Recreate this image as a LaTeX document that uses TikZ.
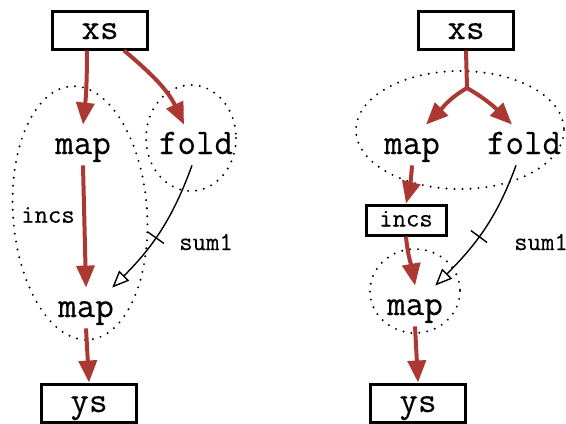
\documentclass[tikz,border=0pt]{standalone}
\usepackage{fontspec}
\setmonofont{Latin Modern Mono}[FakeBold=0.3]
\usetikzlibrary{arrows.meta,decorations.markings}
\definecolor{flow}{RGB}{172,56,52}

\begin{document}
\begin{tikzpicture}[x=0.5pt,y=-0.5pt,
    box/.style={draw,line width=1.5pt,font=\fontsize{18}{20}\selectfont\ttfamily,text height=12pt,text depth=3pt,minimum width=47.5pt,minimum height=19pt,inner sep=0pt},
    small box/.style={box,font=\fontsize{13}{15}\selectfont\ttfamily,text height=8.5pt,text depth=2pt,minimum width=40pt,minimum height=15pt},
    fn/.style={font=\fontsize{18}{20}\selectfont\ttfamily,text height=12pt,text depth=3pt,minimum height=20pt,inner sep=1pt},
    lbl/.style={font=\fontsize{13}{15}\selectfont\ttfamily},
    data/.style={draw=flow,line width=2pt,-{Triangle[length=11pt,width=9pt]}},
    ctrl/.style={draw,line width=0.7pt,-{Triangle[open,length=8.5pt,width=7pt]},postaction={decorate},
        decoration={markings,mark=at position 0.55 with {\draw[-] (0,-5pt)--(0,5pt);}}},
    region/.style={draw,line width=1.1pt,dash pattern=on 0pt off 4pt,line cap=round}]
    \useasboundingbox (0,0) rectangle (566,423);

    % left
    \draw[region,rotate around={4:(80,213)}] (80,213) ellipse [x radius=67,y radius=127];
    \draw[region] (191,138) ellipse [x radius=45,y radius=53];
    \node[box] (xsL) at (100,30) {xs};
    \node[fn] (mapL) at (83,145) {map};
    \node[fn] (foldL) at (196,145) {fold};
    \node[fn] (mapL2) at (86,308) {map};
    \node[box] (ysL) at (89,403) {ys};
    \node[lbl] (incsL) at (48,215) {incs};
    \node[lbl] (sumL) at (206,242) {sum1};
    \draw[data] ([xshift=-6.5pt]xsL.south) to[bend left=3] (mapL.north);
    \draw[data] ([xshift=12pt]xsL.south) to[out=-40,in=115] ([xshift=-6pt]foldL.north);
    \draw[data] (mapL.south) -- (mapL2.north);
    \draw[data] (mapL2.south) -- (ysL.north);
    \draw[ctrl] ([xshift=-2pt]foldL.south) to[out=-110,in=45] ([xshift=-2pt]mapL2.north east);

    % right
    \draw[region] (460,130) ellipse [x radius=104,y radius=59];
    \draw[region] (415,291) ellipse [x radius=45,y radius=42];
    \node[box] (xsR) at (466,30) {xs};
    \node[fn] (mapR) at (412,145) {map};
    \node[fn] (foldR) at (524,145) {fold};
    \node[small box] (incsR) at (406,220) {incs};
    \node[fn] (mapR2) at (415,306) {map};
    \node[box] (ysR) at (418,403) {ys};
    \node[lbl] (sumR) at (541,242) {sum1};
    \coordinate (splitR) at (467,88);
    \draw[flow,line width=2pt] (xsR.south) -- (splitR);
    \draw[data] (splitR) to[out=-150,in=45] ([xshift=7pt]mapR.north);
    \draw[data] (splitR) to[out=-30,in=135] ([xshift=-6pt]foldR.north);
    \draw[data] (mapR.south) to[bend left=5] (incsR.north);
    \draw[data] (incsR.south) to[out=-85,in=100] (mapR2.north);
    \draw[data] (mapR2.south) -- (ysR.north);
    \draw[ctrl] ([xshift=-4pt]foldR.south) to[out=-110,in=45] ([xshift=-5pt]mapR2.north east);
\end{tikzpicture}
\end{document}
